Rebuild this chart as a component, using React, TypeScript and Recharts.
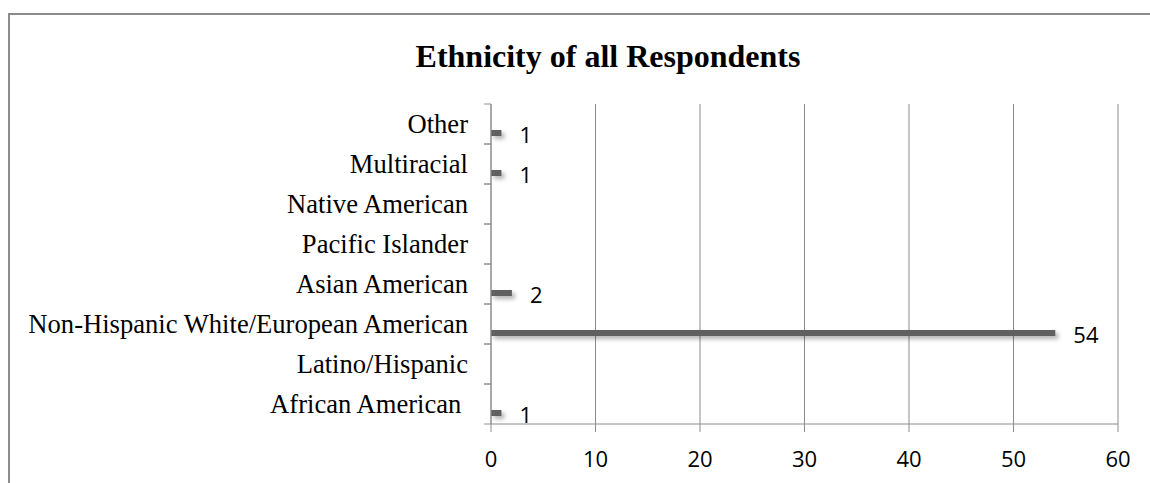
import { BarChart, Bar, XAxis, YAxis, CartesianGrid } from "recharts";

// bottom-to-top, as in the original sheet (note the trailing space on the first label)
const categories = [
  "African American ",
  "Latino/Hispanic",
  "Non-Hispanic White/European American",
  "Asian American",
  "Pacific Islander",
  "Native American",
  "Multiracial",
  "Other",
];
const respondents = [1, 0, 54, 2, 0, 0, 1, 1];
const xTicks = [0, 10, 20, 30, 40, 50, 60];

const AXIS_GRAY = "#8c8c8c";
const BAR_GRAY = "#5f5f5f";
const SERIF = "'Liberation Serif', 'Times New Roman', serif";
const SANS = "'Open Sans', 'Noto Sans', sans-serif";

const Y_TICK_SIZE = 7;
const Y_TICK_MARGIN = 16;

const chartData = categories.map((name, i) => ({ name, value: respondents[i] }));

function CategoryTick(props: any) {
  const { x, y, payload } = props;
  const axisX = x + Y_TICK_SIZE + Y_TICK_MARGIN;
  const half = payload.offset ?? 20;
  return (
    <g>
      <line x1={axisX - Y_TICK_SIZE} x2={axisX} y1={y - half} y2={y - half} stroke={AXIS_GRAY} />
      <line x1={axisX - Y_TICK_SIZE} x2={axisX} y1={y + half} y2={y + half} stroke={AXIS_GRAY} />
      <text
        x={x}
        y={y}
        dy={8.5}
        textAnchor="end"
        fontFamily={SERIF}
        fontSize={26.6}
        fill="#000"
        style={{ whiteSpace: "pre" }}
      >
        {payload.value}
      </text>
    </g>
  );
}

// thin bar sitting a little below the band centre, Excel style, with a soft shadow
function ShadowBar(props: any) {
  const { x, y, width, height, payload } = props;
  const value = payload?.value;
  if (!value || !width || width <= 0) return <g />;
  const top = y + 9;
  return (
    <g>
      <rect
        x={x}
        y={top}
        width={width}
        height={height}
        fill={BAR_GRAY}
        style={{ filter: "drop-shadow(3px 3px 2px rgba(0,0,0,0.3))" }}
      />
      <text x={x + width + 18} y={top + height / 2 + 9.5} fontFamily={SANS} fontSize={22} fill="#000">
        {value}
      </text>
    </g>
  );
}

export default function App() {
  return (
    <div
      style={{
        position: "absolute",
        left: 0,
        top: 0,
        width: 1150,
        height: 483,
        overflow: "hidden",
        background: "#fff",
      }}
    >
      {/* chart frame, only top and left edges show in the crop */}
      <svg width={1150} height={483} style={{ position: "absolute", left: 0, top: 0 }}>
        <path d="M9 483 V14 H1150" fill="none" stroke={AXIS_GRAY} strokeWidth={2} />
      </svg>
      <div
        style={{
          position: "absolute",
          left: 308,
          top: 40,
          width: 600,
          textAlign: "center",
          fontFamily: SERIF,
          fontWeight: "bold",
          fontSize: 32,
          lineHeight: "32px",
        }}
      >
        Ethnicity of all Respondents
      </div>
      <div style={{ position: "absolute", left: 0, top: 0 }}>
        <BarChart
          width={1150}
          height={483}
          data={chartData}
          layout="vertical"
          margin={{ top: 104, right: 32, bottom: 0, left: 0 }}
          barSize={6}
        >
          <CartesianGrid horizontal={false} stroke={AXIS_GRAY} />
          <XAxis
            type="number"
            domain={[0, 60]}
            ticks={xTicks}
            interval={0}
            height={59}
            tickSize={8}
            tickMargin={19}
            axisLine={{ stroke: AXIS_GRAY }}
            tickLine={{ stroke: AXIS_GRAY }}
            tick={{ fontFamily: SANS, fontSize: 22, fill: "#000" }}
          />
          <YAxis
            type="category"
            dataKey="name"
            reversed
            width={491}
            interval={0}
            tickSize={Y_TICK_SIZE}
            tickMargin={Y_TICK_MARGIN}
            tickLine={false}
            axisLine={{ stroke: AXIS_GRAY }}
            tick={<CategoryTick />}
          />
          <Bar dataKey="value" fill={BAR_GRAY} shape={<ShadowBar />} isAnimationActive={false} />
        </BarChart>
      </div>
    </div>
  );
}
